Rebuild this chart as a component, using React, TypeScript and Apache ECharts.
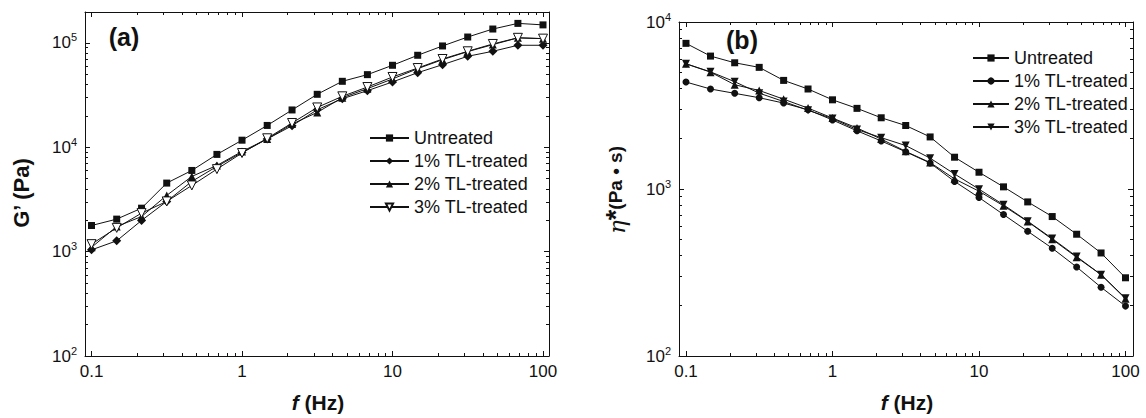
import React, { useEffect, useRef } from "react";
import * as echarts from "echarts";

const FONT = "'Liberation Sans', Arial, sans-serif";
const INK = "#111";

const freq = [0.1, 0.147, 0.215, 0.316, 0.464, 0.681, 1, 1.47, 2.15, 3.16, 4.64, 6.81, 10, 14.7, 21.5, 31.6, 46.4, 68.1, 100];

// Panel (a): storage modulus G' (Pa)
const gUntreated = [1780, 2050, 2610, 4540, 6000, 8550, 11700, 16200, 22800, 32200, 42900, 49700, 61100, 76200, 93600, 114000, 136000, 154000, 149000];
const g1pct = [1040, 1270, 1990, 3030, 4710, 6560, 8930, 12000, 16100, 22900, 29200, 34900, 42300, 51900, 61900, 74500, 83200, 95000, 95000];
const g2pct = [1100, 1740, 2170, 3460, 5260, 6700, 9130, 12000, 16700, 21600, 29900, 36500, 45200, 56700, 69200, 82600, 96400, 112000, 110000];
const g3pct = [1180, 1690, 2340, 3030, 4310, 6180, 8810, 12200, 17100, 24100, 30800, 37800, 47200, 57500, 70200, 83200, 97800, 112000, 110000];

// Panel (b): complex viscosity η* (Pa·s)
const eUntreated = [7450, 6250, 5700, 5350, 4470, 3970, 3420, 3040, 2670, 2400, 2050, 1550, 1260, 1030, 837, 684, 536, 414, 294];
const e1pct = [4370, 3970, 3740, 3520, 3270, 2980, 2590, 2230, 1940, 1670, 1430, 1110, 889, 703, 558, 442, 341, 258, 199];
const e2pct = [5620, 5010, 4210, 3890, 3450, 3050, 2660, 2320, 1990, 1680, 1440, 1150, 970, 793, 638, 500, 390, 307, 220];
const e3pct = [5620, 5030, 4390, 3750, 3340, 2960, 2640, 2270, 2030, 1820, 1530, 1230, 998, 804, 641, 505, 394, 307, 222];

const seriesNames = ["Untreated", "1% TL-treated", "2% TL-treated", "3% TL-treated"];

const xTickLabels: Record<string, string> = { "-1": "0.1", "0": "1", "1": "10", "2": "100" };
const yExponents = ["2", "3", "4", "5"];

const xMinorTicks = [0.2, 0.3, 0.4, 0.5, 0.6, 0.7, 0.8, 0.9, 2, 3, 4, 5, 6, 7, 8, 9, 20, 30, 40, 50, 60, 70, 80, 90];
const yMinorTicksA = [200, 300, 400, 500, 600, 700, 800, 900, 2000, 3000, 4000, 5000, 6000, 7000, 8000, 9000, 20000, 30000, 40000, 50000, 60000, 70000, 80000, 90000];
const yMinorTicksB = [200, 300, 400, 500, 600, 700, 800, 900, 2000, 3000, 4000, 5000, 6000, 7000, 8000, 9000];

const isPow10 = (v: number) => {
  const l = Math.log10(v);
  return Math.abs(l - Math.round(l)) < 1e-6;
};

function xFormatter(v: number) {
  if (!isPow10(v)) return "";
  return xTickLabels[String(Math.round(Math.log10(v)))] || "";
}
function yFormatter(v: number) {
  if (!isPow10(v)) return "";
  const e = String(Math.round(Math.log10(v)));
  if (yExponents.indexOf(e) < 0) return "";
  return "{b|10}{s|" + e + "}";
}

const majorLine = { show: true, onZero: false, lineStyle: { color: INK, width: 1 } };
const noLine = { show: false, onZero: false };

function makeX(g: number, min: number, max: number) {
  const common = { gridIndex: g, splitLine: { show: false } };
  const minorTick = { show: true, inside: true, length: 3, lineStyle: { color: INK }, customValues: xMinorTicks.map(Math.log10) };
  return [
    {
      ...common, type: "log", logBase: 10, position: "bottom", min, max,
      axisLine: majorLine,
      axisTick: { show: true, inside: true, length: 5, lineStyle: { color: INK } },
      axisLabel: { formatter: xFormatter, fontSize: 17, color: INK, fontFamily: FONT, margin: 7 },
    },
    {
      ...common, type: "value", position: "bottom", min: Math.log10(min), max: Math.log10(max),
      axisLine: noLine, axisTick: minorTick, axisLabel: { show: false },
    },
    {
      ...common, type: "log", logBase: 10, position: "top", min, max,
      axisLine: majorLine,
      axisTick: { show: true, inside: true, length: 5, lineStyle: { color: INK } },
      axisLabel: { show: false },
    },
    {
      ...common, type: "value", position: "top", min: Math.log10(min), max: Math.log10(max),
      axisLine: noLine, axisTick: minorTick, axisLabel: { show: false },
    },
  ];
}

function makeY(g: number, min: number, max: number, minor: number[]) {
  const common = { gridIndex: g, splitLine: { show: false } };
  const minorTick = { show: true, inside: true, length: 3, lineStyle: { color: INK }, customValues: minor.map(Math.log10) };
  return [
    {
      ...common, type: "log", logBase: 10, position: "left", min, max,
      axisLine: majorLine,
      axisTick: { show: true, inside: true, length: 5, lineStyle: { color: INK } },
      axisLabel: {
        formatter: yFormatter, color: INK, fontFamily: FONT, margin: 8,
        rich: {
          b: { fontSize: 17, lineHeight: 22, fontFamily: FONT, color: INK },
          s: { fontSize: 11, lineHeight: 12, verticalAlign: "top", fontFamily: FONT, color: INK },
        },
      },
    },
    {
      ...common, type: "value", position: "left", min: Math.log10(min), max: Math.log10(max),
      axisLine: noLine, axisTick: minorTick, axisLabel: { show: false },
    },
    {
      ...common, type: "log", logBase: 10, position: "right", min, max,
      axisLine: majorLine,
      axisTick: { show: true, inside: true, length: 5, lineStyle: { color: INK } },
      axisLabel: { show: false },
    },
    {
      ...common, type: "value", position: "right", min: Math.log10(min), max: Math.log10(max),
      axisLine: noLine, axisTick: minorTick, axisLabel: { show: false },
    },
  ];
}

function line(id: string, name: string, values: number[], axisIdx: number, symbol: string, size: number, opts: any = {}) {
  return {
    id,
    name,
    type: "line",
    xAxisIndex: axisIdx,
    yAxisIndex: axisIdx,
    data: freq.map((f, i) => [f, values[i]]),
    symbol,
    symbolSize: size,
    symbolRotate: opts.rotate || 0,
    showAllSymbol: true,
    lineStyle: { color: INK, width: 1 },
    itemStyle: opts.open
      ? { color: "#fff", borderColor: INK, borderWidth: 1 }
      : { color: INK, borderWidth: 0 },
    emphasis: { disabled: true },
    z: 3,
  };
}

export default function App() {
  const ref = useRef<HTMLDivElement>(null);
  useEffect(() => {
    if (!ref.current) return;
    const chart = echarts.init(ref.current, null, { renderer: "svg" });
    const aNames = seriesNames.map((n) => "a:" + n);
    const bNames = seriesNames.map((n) => "b:" + n);
    const legendCommon = {
      orient: "vertical",
      selectedMode: false,
      itemHeight: 9,
      itemGap: 3,
      formatter: (n: string) => n.slice(2),
      textStyle: { fontSize: 18, color: INK, fontFamily: FONT, lineHeight: 20 },
    };
    const option: any = {
      animation: false,
      backgroundColor: "#fff",
      grid: [
        { left: 85, top: 12, width: 464, height: 344 },
        { left: 679, top: 22, width: 454, height: 334 },
      ],
      xAxis: [...makeX(0, 0.0905, 109.6), ...makeX(1, 0.0896, 112.5)],
      yAxis: [...makeY(0, 100, 198000, yMinorTicksA), ...makeY(1, 100, 10000, yMinorTicksB)],
      legend: [
        { ...legendCommon, data: aNames, left: 364, top: 123, itemWidth: 39 },
        { ...legendCommon, data: bNames, left: 967, top: 43, itemWidth: 36 },
      ],
      series: [
        line("a0", aNames[0], gUntreated, 0, "rect", 7),
        line("a1", aNames[1], g1pct, 0, "diamond", 9),
        line("a2", aNames[2], g2pct, 0, "triangle", 8),
        line("a3", aNames[3], g3pct, 0, "triangle", 9, { rotate: 180, open: true }),
        line("b0", bNames[0], eUntreated, 4, "rect", 7),
        line("b1", bNames[1], e1pct, 4, "circle", 7),
        line("b2", bNames[2], e2pct, 4, "triangle", 8),
        line("b3", bNames[3], e3pct, 4, "triangle", 8, { rotate: 180 }),
      ],
      graphic: [
        { type: "text", x: 124, y: 37, style: { text: "(a)", font: "bold 25px " + FONT, fill: INK, align: "center", verticalAlign: "middle" } },
        { type: "text", x: 742, y: 40, style: { text: "(b)", font: "bold 25px " + FONT, fill: INK, align: "center", verticalAlign: "middle" } },
        {
          type: "text", x: 318, y: 402,
          style: {
            text: "{i|f} (Hz)", fontSize: 21, fontWeight: "bold", fontFamily: FONT, fill: INK, align: "center", verticalAlign: "middle",
            rich: { i: { fontSize: 21, fontWeight: "bold", fontStyle: "italic", fontFamily: FONT, fill: INK } },
          },
        },
        {
          type: "text", x: 907, y: 402,
          style: {
            text: "{i|f} (Hz)", fontSize: 21, fontWeight: "bold", fontFamily: FONT, fill: INK, align: "center", verticalAlign: "middle",
            rich: { i: { fontSize: 21, fontWeight: "bold", fontStyle: "italic", fontFamily: FONT, fill: INK } },
          },
        },
        {
          type: "text", x: 21, y: 193, rotation: Math.PI / 2,
          style: { text: "G’ (Pa)", font: "bold 22px " + FONT, fill: INK, align: "center", verticalAlign: "middle" },
        },
        {
          type: "text", x: 615, y: 190, rotation: Math.PI / 2,
          style: {
            text: "{e|η}{s|*}(Pa • s)", fontSize: 19, fontWeight: "bold", fontFamily: FONT, fill: INK, align: "center", verticalAlign: "middle",
            rich: {
              e: { fontSize: 23, fontStyle: "italic", fontFamily: "'DejaVu Serif', serif", fill: INK, verticalAlign: "bottom", lineHeight: 26 },
              s: { fontSize: 27, fontWeight: "bold", fontFamily: FONT, fill: INK, verticalAlign: "top", lineHeight: 26 },
            },
          },
        },
      ],
    };
    chart.setOption(option);
    return () => chart.dispose();
  }, []);
  return <div ref={ref} style={{ position: "fixed", left: 0, top: 0, width: 1146, height: 418 }} />;
}
